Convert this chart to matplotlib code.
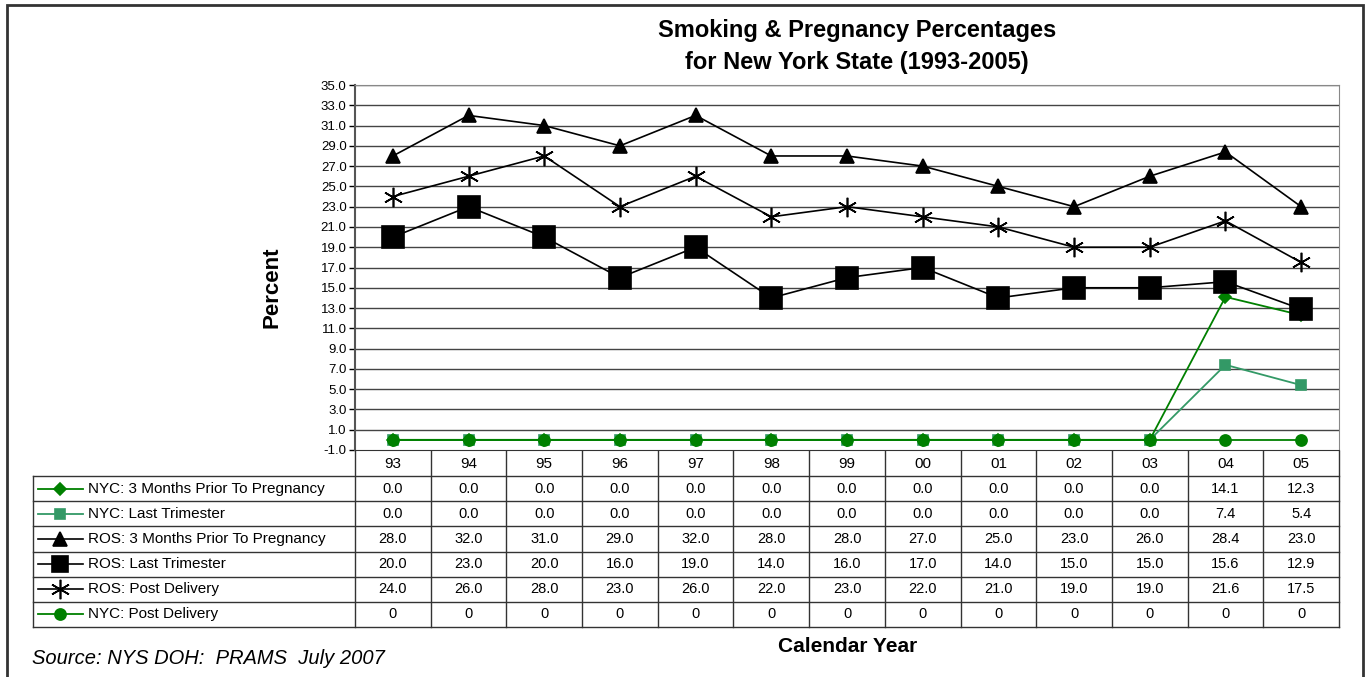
import numpy as np
import matplotlib
matplotlib.use('Agg')
import matplotlib.pyplot as plt
from matplotlib.patches import Rectangle

plt.rcParams['font.family'] = ['Liberation Sans', 'DejaVu Sans']

years = ['93', '94', '95', '96', '97', '98', '99', '00', '01', '02', '03', '04', '05']

nyc_3mo = [0.0, 0.0, 0.0, 0.0, 0.0, 0.0, 0.0, 0.0, 0.0, 0.0, 0.0, 14.1, 12.3]
nyc_last = [0.0, 0.0, 0.0, 0.0, 0.0, 0.0, 0.0, 0.0, 0.0, 0.0, 0.0, 7.4, 5.4]
ros_3mo = [28.0, 32.0, 31.0, 29.0, 32.0, 28.0, 28.0, 27.0, 25.0, 23.0, 26.0, 28.4, 23.0]
ros_last = [20.0, 23.0, 20.0, 16.0, 19.0, 14.0, 16.0, 17.0, 14.0, 15.0, 15.0, 15.6, 12.9]
ros_post = [24.0, 26.0, 28.0, 23.0, 26.0, 22.0, 23.0, 22.0, 21.0, 19.0, 19.0, 21.6, 17.5]
nyc_post = [0, 0, 0, 0, 0, 0, 0, 0, 0, 0, 0, 0, 0]

labels = ['NYC: 3 Months Prior To Pregnancy', 'NYC: Last Trimester',
          'ROS: 3 Months Prior To Pregnancy', 'ROS: Last Trimester',
          'ROS: Post Delivery', 'NYC: Post Delivery']
series = [nyc_3mo, nyc_last, ros_3mo, ros_last, ros_post, nyc_post]
fmts = ['{:.1f}', '{:.1f}', '{:.1f}', '{:.1f}', '{:.1f}', '{:d}']

# style per series: color, marker, marker size, line width
styles = [
    dict(color='#008000', marker='D', ms=6, lw=1.3),
    dict(color='#339966', marker='s', ms=7, lw=1.3),
    dict(color='black', marker='^', ms=10, lw=1.2),
    dict(color='black', marker='s', ms=16, lw=1.2),
    dict(color='black', marker=(6, 2, 0), ms=14, lw=1.2),
    dict(color='#008000', marker='o', ms=8, lw=1.3),
]

W, H = 1368, 677
fig = plt.figure(figsize=(W / 100, H / 100), dpi=100)

# outer frame
fig.patches.append(Rectangle((7 / W, -0.01), 1356 / W, 1 - 5 / H + 0.01,
                             transform=fig.transFigure, fill=False,
                             ec='#333333', lw=2))

# main chart
ax = fig.add_axes([355 / W, 1 - 450 / H, 984 / W, 365 / H])
x = np.arange(len(years))
draw_order = [1, 0, 2, 4, 3, 5]
for i in draw_order:
    st = styles[i]
    ax.plot(x, series[i], color=st['color'], lw=st['lw'], marker=st['marker'],
            ms=st['ms'], mec=st['color'], mfc=st['color'], mew=1.2,
            zorder=3, clip_on=False)

ax.set_xlim(-0.5, len(years) - 0.5)
ax.set_ylim(-1, 35)
yt = np.arange(-1, 35.1, 2)
ax.set_yticks(yt)
ax.set_yticklabels(['{:.1f}'.format(v) for v in yt], fontsize=9.5)
ax.set_xticks([])
ax.tick_params(axis='y', length=4, width=1, pad=2, direction='out')
for v in yt[1:]:
    ax.axhline(v, color='#444444', lw=1, zorder=1)
for s in ['top', 'right']:
    ax.spines[s].set_color('#888888')
ax.spines['left'].set_color('#555555')
ax.spines['left'].set_linewidth(1.5)
ax.spines['bottom'].set_color('#333333')

fig.text(272 / W, 1 - 287 / H, 'Percent', rotation=90, ha='center',
         va='center', fontsize=16, fontweight='bold')

fig.text(857 / W, 1 - 30 / H, 'Smoking & Pregnancy Percentages', ha='center',
         va='center', fontsize=17, fontweight='bold')
fig.text(857 / W, 1 - 63 / H, 'for New York State (1993-2005)', ha='center',
         va='center', fontsize=17, fontweight='bold')

# data table
col_px = 984 / len(years)
label_w = 322 / col_px
left = -0.5 - label_w
tax = fig.add_axes([33 / W, 1 - 627 / H, 1306 / W, 176 / H])
tax.set_xlim(left, len(years) - 0.5)
tax.set_ylim(7, 0)
tax.axis('off')

lc = '#333333'
for i in range(len(years) + 1):
    tax.plot([i - 0.5, i - 0.5], [0, 7], color=lc, lw=1, clip_on=False)
tax.plot([left, left], [1, 7], color=lc, lw=1, clip_on=False)
for r in range(1, 8):
    tax.plot([left, len(years) - 0.5], [r, r], color=lc, lw=1, clip_on=False)

for j, yr in enumerate(years):
    tax.text(j, 0.5, yr, ha='center', va='center', fontsize=11)

px = 1 / col_px
for r, (lab, vals, fm, st) in enumerate(zip(labels, series, fmts, styles)):
    yc = r + 1.5
    tax.plot([left + 5 * px, left + 50 * px], [yc, yc], color=st['color'],
             lw=st['lw'], clip_on=False)
    ms = 12 if (st['marker'] == 's' and st['color'] == 'black') else st['ms']
    tax.plot([left + 27 * px], [yc], color=st['color'], marker=st['marker'],
             ms=ms, mec=st['color'], mfc=st['color'], mew=1.2, clip_on=False)
    tax.text(left + 55 * px, yc, lab, ha='left', va='center', fontsize=11)
    for j, v in enumerate(vals):
        tax.text(j, yc, fm.format(v), ha='center', va='center', fontsize=10.5)

fig.text(848 / W, 1 - 647 / H, 'Calendar Year', ha='center', va='center',
         fontsize=15, fontweight='bold')
fig.text(32 / W, 1 - 658 / H, 'Source: NYS DOH:  PRAMS  July 2007', ha='left',
         va='center', fontsize=14.5, style='italic')

fig.savefig('out.png', dpi=100)
